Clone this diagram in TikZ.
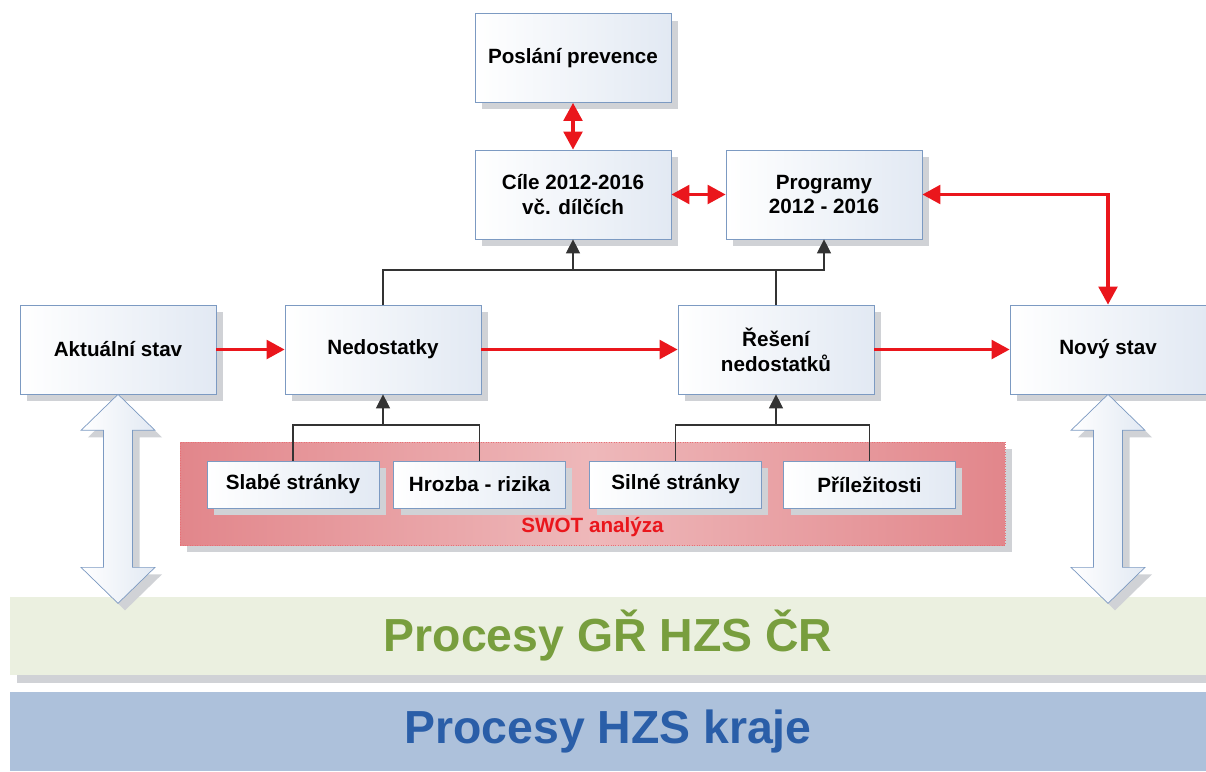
\documentclass[tikz,border=0pt]{standalone}
\usepackage{fontspec}
\setmainfont{Liberation Sans}
\usetikzlibrary{positioning, arrows.meta, shadows}

\definecolor{boxline}{RGB}{124,154,194}
\definecolor{boxshade}{RGB}{226,233,243}
\definecolor{shadowgray}{RGB}{208,210,214}
\definecolor{flowred}{RGB}{234,22,28}
\definecolor{swotdark}{RGB}{226,134,139}
\definecolor{swotlight}{RGB}{238,184,186}
\definecolor{swotedge}{RGB}{232,112,118}
\definecolor{greenband}{RGB}{235,240,224}
\definecolor{greentext}{RGB}{120,158,62}
\definecolor{blueband}{RGB}{173,193,219}
\definecolor{bluetext}{RGB}{42,94,168}

\tikzset{
  boxshadow/.style={drop shadow={shadow xshift=0.14cm, shadow yshift=-0.14cm, fill=shadowgray, opacity=1}},
  stepbox/.style={draw=boxline, left color=white, right color=boxshade, boxshadow, align=center,
    inner sep=0pt, font=\bfseries\fontsize{11.75}{14.2}\selectfont},
  bigbox/.style={stepbox, minimum width=3.92cm, minimum height=1.78cm},
  swotbox/.style={stepbox, minimum width=3.44cm, minimum height=0.94cm},
  redflow/.style={draw=flowred, line width=2.1pt, -{Triangle[length=0.36cm, width=0.37cm]}},
  redboth/.style={redflow, {Triangle[length=0.36cm, width=0.37cm]}-{Triangle[length=0.36cm, width=0.37cm]}},
  blackline/.style={draw=black!80, line width=0.6pt},
  blackflow/.style={blackline, -{Triangle[length=0.28cm, width=0.28cm]}},
  band/.style={minimum width=23.92cm, inner sep=0pt, font=\bfseries\fontsize{26.4}{30}\selectfont}
}

\begin{document}
\begin{tikzpicture}[x=0.02cm, y=-0.02cm]
    \useasboundingbox (0,0) rectangle (1206,771);

    % process bands
    \node[band, fill=greenband, text=greentext, minimum height=1.56cm,
      drop shadow={shadow xshift=0.14cm, shadow yshift=-0.16cm, fill=shadowgray, opacity=1}] (gr) at (608,636) {Procesy GŘ HZS ČR};
    \node[band, fill=blueband, text=bluetext, minimum height=1.58cm] (kraj) at (608,731.5) {Procesy HZS kraje};

    % main boxes
    \node[bigbox] (posl) at (573,58) {Poslání prevence};
    \node[bigbox] (cile) at (573,194.5) {Cíle 2012-2016\\vč. dílčích};
    \node[bigbox] (prog) at (824,194.5) {Programy\\2012 - 2016};
    \node[bigbox] (akt) at (118,349.5) {Aktuální stav};
    \node[bigbox] (ned) at (383,349.5) {Nedostatky};
    \node[bigbox] (res) at (776,349.5) {Řešení\\nedostatků};
    \node[bigbox] (novy) at (1108,349.5) {Nový stav};

    % hollow double arrows down to the bands
    \foreach \b in {akt, novy}
    \draw[draw=boxline, left color=white, right color=boxshade, boxshadow]
      (\b.south) -- ++(37,36) -- ++(-22.5,0) -- ++(0,137) -- ++(22.5,0) -- ++(-37,36)
      -- ++(-37,-36) -- ++(22.5,0) -- ++(0,-137) -- ++(-22.5,0) -- cycle;

    % SWOT
    \node[draw=swotedge, densely dotted, line width=0.4pt, left color=swotdark, right color=swotdark,
      middle color=swotlight, minimum width=16.5cm, minimum height=2.06cm,
      drop shadow={shadow xshift=0.14cm, shadow yshift=-0.14cm, fill=shadowgray, opacity=1}] (swot) at (592.5,493.5) {};
    \node[text=flowred, font=\bfseries\fontsize{11.75}{14.2}\selectfont] (swotlbl) at (592.5,527) {SWOT analýza};

    \node[swotbox] (slabe) at (293,484.5) {Slabé stránky};
    \node[swotbox] (hrozba) at (479.5,484.5) {Hrozba - rizika};
    \node[swotbox] (silne) at (675.5,484.5) {Silné stránky};
    \node[swotbox] (prilez) at (869.5,484.5) {Příležitosti};

    \coordinate (bus) at (0,270);
    \coordinate (lowbus) at (0,425);

    % black connectors
    \draw[blackflow] (ned.north) |- (prog.south |- bus) -- (prog.south);
    \draw[blackflow] (cile.south |- bus) -- (cile.south);
    \draw[blackline] (res.north) -- (res.north |- bus);

    \draw[blackline] (slabe.north) |- (hrozba.north |- lowbus) -- (hrozba.north);
    \draw[blackflow] (ned.south |- lowbus) -- (ned.south);
    \draw[blackline] (silne.north) |- (prilez.north |- lowbus) -- (prilez.north);
    \draw[blackflow] (res.south |- lowbus) -- (res.south);

    % red flow
    \draw[redflow] (akt) -- (ned);
    \draw[redflow] (ned) -- (res);
    \draw[redflow] (res) -- (novy);
    \draw[redboth] (posl) -- (cile);
    \draw[redboth] (cile) -- (prog);
    \draw[redboth] (prog.east) -| (novy.north);

\end{tikzpicture}
\end{document}
